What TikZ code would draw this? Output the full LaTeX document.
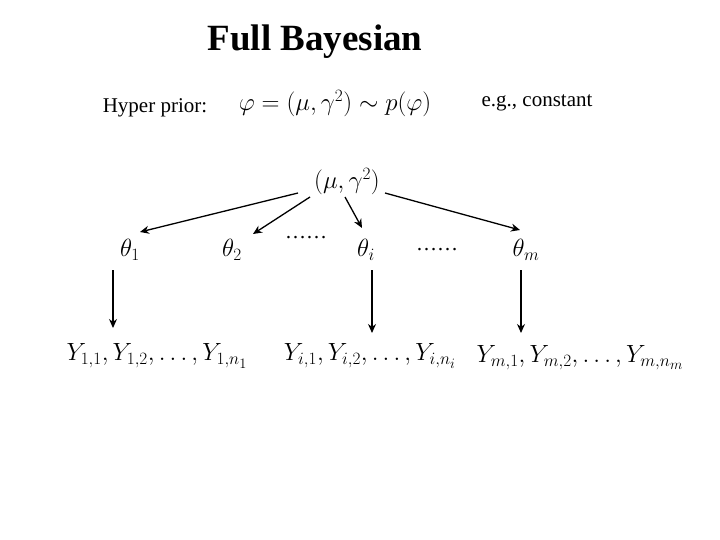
\documentclass[tikz,border=0pt]{standalone}
\usepackage{fontspec}
\setmainfont{Liberation Serif}
\usepackage{amsmath}
\usetikzlibrary{arrows.meta}
\begin{document}
\begin{tikzpicture}[x=1pt,y=-1pt,
  txt/.style={inner sep=0pt,font=\fontsize{21}{24}\selectfont},
  mth/.style={inner sep=0pt,font=\fontsize{27}{30}\selectfont},
  arr/.style={-{Stealth[length=9pt,width=8pt]},line width=1.3pt}]
\useasboundingbox (0,0) rectangle (720,540);
\node[inner sep=0pt,font=\fontsize{37}{40}\selectfont\bfseries] (title) at (315,42) {Full Bayesian};
\node[txt] (hp) at (155,108) {Hyper prior:};
\node[mth] (phi) at (335,104) {$\varphi=(\mu,\gamma^2)\sim p(\varphi)$};
\node[txt] (eg) at (537,103) {e.g., constant};
\node[mth] (mg) at (347,182) {$(\mu,\gamma^2)$};
\node[mth] (t1) at (130,250) {$\theta_1$};
\node[mth] (t2) at (232,250) {$\theta_2$};
\node[txt] (d1) at (306,238) {\ldots\ldots};
\node[mth] (ti) at (366,250) {$\theta_i$};
\node[txt] (d2) at (437,250) {\ldots\ldots};
\node[mth] (tm) at (526,250) {$\theta_m$};
\node[mth] (y1) at (157,356) {$Y_{1,1},Y_{1,2},\ldots,Y_{1,n_1}$};
\node[mth] (yi) at (370,356) {$Y_{i,1},Y_{i,2},\ldots,Y_{i,n_i}$};
\node[mth] (ym) at (580,358) {$Y_{m,1},Y_{m,2},\ldots,Y_{m,n_m}$};
\coordinate (a1) at (298,193); \coordinate (b1) at (140,232);
\coordinate (a2) at (310,197); \coordinate (b2) at (253,234);
\coordinate (a3) at (345,197); \coordinate (b3) at (362,228);
\coordinate (a4) at (385,193); \coordinate (b4) at (520,230);
\draw[arr] (a1) -- (b1);
\draw[arr] (a2) -- (b2);
\draw[arr] (a3) -- (b3);
\draw[arr] (a4) -- (b4);
\coordinate (c1) at (113,270); \coordinate (e1) at (113,328);
\coordinate (c2) at (372,270); \coordinate (e2) at (372,333);
\coordinate (c3) at (521,270); \coordinate (e3) at (521,333);
\draw[arr] (c1) -- (e1);
\draw[arr] (c2) -- (e2);
\draw[arr] (c3) -- (e3);
\end{tikzpicture}
\end{document}
